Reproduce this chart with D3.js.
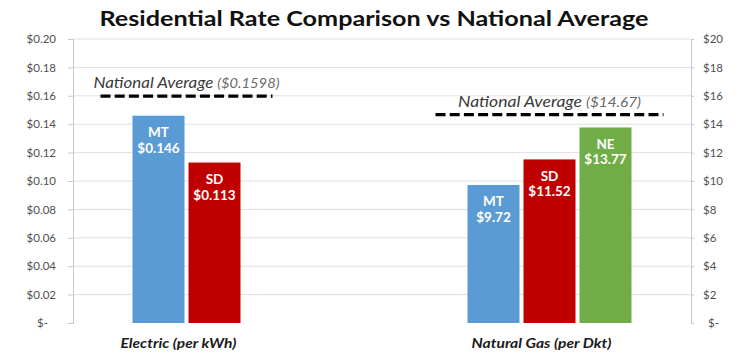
<!DOCTYPE html>
<html>
<head>
<meta charset="utf-8">
<script src="https://cdn.jsdelivr.net/npm/d3@7"></script>
<style>
  html, body { margin: 0; padding: 0; background: #fff; }
  svg { display: block; font-family: Lato, "Open Sans", sans-serif; }
</style>
</head>
<body>
<svg id="chart" width="738" height="355"></svg>
<script>
// Residential rates by state, electric (left axis) and natural gas (right axis)
const categories = ["Electric (per kWh)", "Natural Gas (per Dkt)"];
const states = ["MT", "SD", "NE"];
const electricRates = [0.146, 0.113, null];
const gasRates = [9.72, 11.52, 13.77];
const nationalAverages = [0.1598, 14.67];
const nationalLabels = ["($0.1598)", "($14.67)"];
const leftTicks = [0, 0.02, 0.04, 0.06, 0.08, 0.10, 0.12, 0.14, 0.16, 0.18, 0.20];
const rightTicks = [0, 2, 4, 6, 8, 10, 12, 14, 16, 18, 20];
const stateColors = ["#5b9bd5", "#c00000", "#70ad47"];

const svg = d3.select("#chart");
const plotLeft = 73, plotRight = 691, plotTop = 39, plotBottom = 323;

const yLeft = d3.scaleLinear().domain([0, 0.2]).range([plotBottom, plotTop]);
const yRight = d3.scaleLinear().domain([0, 20]).range([plotBottom, plotTop]);
const x = d3.scaleBand().domain(categories).range([47, 717]);
const xState = d3.scaleBand().domain(states)
  .range([85.5, 249.5]).paddingInner(0.0714).paddingOuter(0);
const color = d3.scaleOrdinal().domain(states).range(stateColors);

// Title
svg.append("text")
  .attr("x", 374).attr("y", 26)
  .attr("text-anchor", "middle")
  .attr("font-size", 21).attr("font-weight", 700)
  .attr("fill", "#111")
  .attr("textLength", 549).attr("lengthAdjust", "spacingAndGlyphs")
  .text("Residential Rate Comparison vs National Average");

// Gridlines
svg.append("g").selectAll("line").data(leftTicks.slice(1)).join("line")
  .attr("x1", plotLeft).attr("x2", plotRight)
  .attr("y1", d => yLeft(d)).attr("y2", d => yLeft(d))
  .attr("stroke", "#e0e0e0").attr("stroke-width", 1);

// Left axis
const fmtLeft = d => d === 0 ? "$-" : "$" + d3.format(".2f")(d);
const gL = svg.append("g").attr("transform", `translate(${plotLeft},0)`)
  .call(d3.axisLeft(yLeft).tickValues(leftTicks).tickFormat(fmtLeft)
    .tickSize(5).tickPadding(12));
gL.select(".domain").attr("stroke", "#c8c8c8");
gL.selectAll(".tick line").attr("stroke", "#c8c8c8");
gL.selectAll(".tick text").attr("fill", "#505050").attr("font-size", 11.5)
  .attr("font-family", "Lato, sans-serif")
  .attr("dx", d => d === 0 ? -8 : 0);

// Right axis
const fmtRight = d => d === 0 ? "$-" : "$" + d;
const gR = svg.append("g").attr("transform", `translate(${plotRight},0)`)
  .call(d3.axisRight(yRight).tickValues(rightTicks).tickFormat(fmtRight)
    .tickSize(3).tickPadding(9));
gR.select(".domain").attr("stroke", "#c8c8c8");
gR.selectAll(".tick line").attr("stroke", "#c8c8c8");
gR.selectAll(".tick text").attr("fill", "#505050").attr("font-size", 11.5)
  .attr("font-family", "Lato, sans-serif")
  .attr("dx", d => d === 0 ? 5 : 0);

// Bars
const groups = [
  { cat: categories[0], values: electricRates, y: yLeft, fmt: d => "$" + d3.format(".3f")(d),
    noteWidth: 186, catWidth: 116 },
  { cat: categories[1], values: gasRates, y: yRight, fmt: d => "$" + d3.format(".2f")(d),
    noteWidth: 183, catWidth: 140 }
];

groups.forEach((g, gi) => {
  const bars = states.map((s, i) => ({ state: s, value: g.values[i] }))
    .filter(d => d.value != null);
  const gx = x(g.cat);
  const layer = svg.append("g");
  const cx = d => gx + xState(d.state) + xState.bandwidth() / 2;

  layer.selectAll("rect").data(bars).join("rect")
    .attr("x", d => gx + xState(d.state))
    .attr("width", xState.bandwidth())
    .attr("y", d => g.y(d.value))
    .attr("height", d => g.y(0) - g.y(d.value))
    .attr("fill", d => color(d.state));

  const lbl = layer.selectAll("text.val").data(bars).join("text")
    .attr("class", "val")
    .attr("text-anchor", "middle")
    .attr("fill", "#fff").attr("font-weight", 700).attr("font-size", 13.5)
    .attr("x", cx);
  lbl.append("tspan").attr("y", d => g.y(d.value) + 21.5).attr("x", cx)
    .text(d => d.state);
  lbl.append("tspan").attr("y", d => g.y(d.value) + 37).attr("x", cx)
    .text(d => g.fmt(d.value));

  // extent of the drawn bars
  const x0 = gx + xState(bars[0].state);
  const x1 = gx + xState(bars[bars.length - 1].state) + xState.bandwidth();
  const mid = (x0 + x1) / 2;

  // National average dashed line
  const ny = g.y(nationalAverages[gi]);
  layer.append("line")
    .attr("x1", x0 - 32).attr("x2", x1 + 32)
    .attr("y1", ny).attr("y2", ny)
    .attr("stroke", "#000").attr("stroke-width", 3.2)
    .attr("stroke-dasharray", "10,4.2");

  const nt = layer.append("text")
    .attr("x", mid).attr("y", ny - 8)
    .attr("text-anchor", "middle")
    .attr("font-style", "italic")
    .attr("textLength", g.noteWidth).attr("lengthAdjust", "spacingAndGlyphs");
  nt.append("tspan").attr("fill", "#3a3a3a").attr("font-size", 15.5).text("National Average ");
  nt.append("tspan").attr("fill", "#6a6a6a").attr("font-size", 13.5).text(nationalLabels[gi]);

  // Category label
  svg.append("text")
    .attr("x", mid - 8).attr("y", 348)
    .attr("text-anchor", "middle")
    .attr("font-size", 13).attr("font-weight", 700).attr("font-style", "italic")
    .attr("fill", "#1a1a1a")
    .attr("textLength", g.catWidth).attr("lengthAdjust", "spacingAndGlyphs")
    .text(g.cat);
});
</script>
</body>
</html>
